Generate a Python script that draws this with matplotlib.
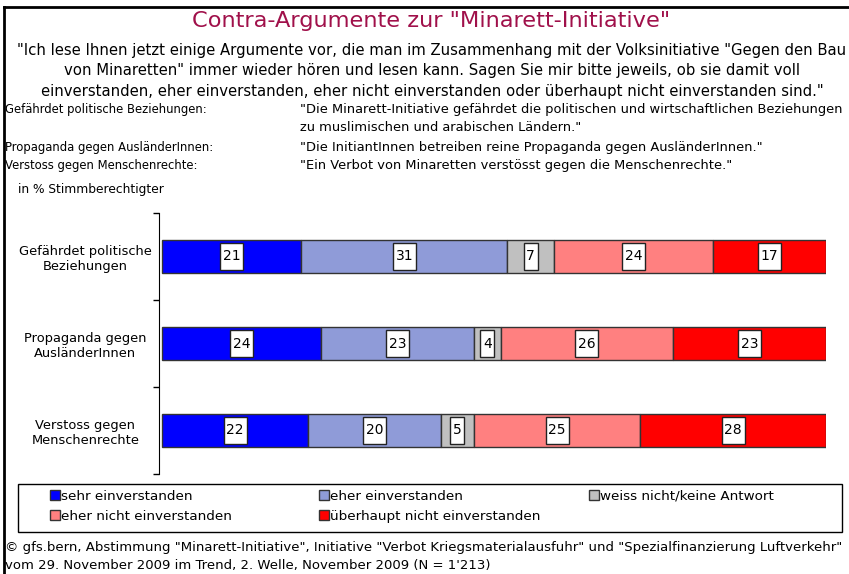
import numpy as np
import matplotlib.pyplot as plt
from matplotlib.patches import Rectangle
from matplotlib.lines import Line2D

# Daten
kategorien = ["Gefährdet politische\nBeziehungen",
              "Propaganda gegen\nAusländerInnen",
              "Verstoss gegen\nMenschenrechte"]
antworten = ["sehr einverstanden", "eher einverstanden", "weiss nicht/keine Antwort",
             "eher nicht einverstanden", "überhaupt nicht einverstanden"]
sehr_einverstanden = [21, 24, 22]
eher_einverstanden = [31, 23, 20]
weiss_nicht = [7, 4, 5]
eher_nicht = [24, 26, 25]
ueberhaupt_nicht = [17, 23, 28]
farben = ["#0000ff", "#8f9bd8", "#c0c0c0", "#ff8080", "#ff0000"]

W, H = 849, 574


def fx(x):
    return x / W


def fy(y):
    return 1 - y / H


fig = plt.figure(figsize=(W / 100, H / 100), dpi=100)

# Rahmen oben und links
fig.add_artist(Line2D([fx(4), 1], [fy(7), fy(7)], color="black", lw=2))
fig.add_artist(Line2D([fx(4), fx(4)], [fy(7), 0], color="black", lw=2))

fig.text(fx(431), fy(21), 'Contra-Argumente zur "Minarett-Initiative"', ha="center", va="center",
         fontsize=16.2, color="#a0104a")
frage = ('"Ich lese Ihnen jetzt einige Argumente vor, die man im Zusammenhang mit der Volksinitiative "Gegen den Bau\n'
         'von Minaretten" immer wieder hören und lesen kann. Sagen Sie mir bitte jeweils, ob sie damit voll\n'
         'einverstanden, eher einverstanden, eher nicht einverstanden oder überhaupt nicht einverstanden sind."')
fig.text(fx(432), fy(71), frage, ha="center", va="center", fontsize=10.7, linespacing=1.45)

fig.text(fx(5), fy(110), "Gefährdet politische Beziehungen:", ha="left", va="center", fontsize=8.4)
fig.text(fx(300), fy(110), '"Die Minarett-Initiative gefährdet die politischen und wirtschaftlichen Beziehungen',
         ha="left", va="center", fontsize=9.35)
fig.text(fx(300), fy(128), 'zu muslimischen und arabischen Ländern."', ha="left", va="center", fontsize=9.35)
fig.text(fx(5), fy(147), "Propaganda gegen AusländerInnen:", ha="left", va="center", fontsize=8.4)
fig.text(fx(300), fy(147), '"Die InitiantInnen betreiben reine Propaganda gegen AusländerInnen."',
         ha="left", va="center", fontsize=9.35)
fig.text(fx(5), fy(165), "Verstoss gegen Menschenrechte:", ha="left", va="center", fontsize=8.4)
fig.text(fx(300), fy(165), '"Ein Verbot von Minaretten verstösst gegen die Menschenrechte."',
         ha="left", va="center", fontsize=9.35)

fig.text(fx(18), fy(190), "in % Stimmberechtigter", ha="left", va="center", fontsize=8.8)

# Balken
ax = fig.add_axes([fx(159), fy(474), fx(826) - fx(159), (474 - 213) / H])
werte = np.array([sehr_einverstanden, eher_einverstanden, weiss_nicht, eher_nicht, ueberhaupt_nicht])
y = np.arange(len(kategorien))
px_x = (826 - 162) / 100.0   # Pixel pro Prozentpunkt
px_y = 87.0                  # Pixel pro Kategorie
links = np.zeros(len(kategorien))
balken = []
for i in range(len(antworten)):
    b = ax.barh(y, werte[i], left=links, height=0.38, color=farben[i],
                edgecolor="#333333", linewidth=1, label=antworten[i])
    balken.append(b)
    for j in range(len(kategorien)):
        mitte = links[j] + werte[i][j] / 2
        text = str(werte[i][j])
        bw = (5 + 9 * len(text)) / px_x
        bh = 27 / px_y
        ax.add_patch(Rectangle((mitte - bw / 2, y[j] - bh / 2), bw, bh, facecolor="white",
                               edgecolor="#222222", lw=1, zorder=3))
        ax.text(mitte, y[j], text, ha="center", va="center", fontsize=10, zorder=4)
    links += werte[i]

ax.set_xlim(-0.45, 100)
ax.set_ylim(2.5, -0.5)
ax.set_yticks(y)
ax.set_yticklabels(kategorien, multialignment="center", ha="center", fontsize=9.4)
ax.tick_params(axis="y", which="major", length=0, pad=53)
ax.set_yticks([-0.5, 0.5, 1.5, 2.5], minor=True)
ax.tick_params(axis="y", which="minor", length=4, width=1, direction="out")
ax.set_xticks([])
for s in ["top", "right", "bottom"]:
    ax.spines[s].set_visible(False)

# Legende in drei Spalten
fig.add_artist(Rectangle((fx(18), fy(532)), fx(842) - fx(18), (532 - 484) / H,
                         fill=False, edgecolor="black", lw=1))
spalten = [[0, 3], [1, 4], [2]]
spalten_x = [47, 316, 586]
for idx, xs in zip(spalten, spalten_x):
    fig.legend([balken[k] for k in idx], [antworten[k] for k in idx],
               loc="upper left", bbox_to_anchor=(fx(xs), fy(487)), frameon=False,
               fontsize=9.7, handlelength=0.75, handleheight=0.75, handletextpad=0.1,
               labelspacing=0.55, borderpad=0.2, borderaxespad=0)

fig.text(fx(5), fy(548), '© gfs.bern, Abstimmung "Minarett-Initiative", Initiative "Verbot Kriegsmaterialausfuhr" und "Spezialfinanzierung Luftverkehr"',
         ha="left", va="center", fontsize=9.5)
fig.text(fx(5), fy(566), "vom 29. November 2009 im Trend, 2. Welle, November 2009 (N = 1'213)",
         ha="left", va="center", fontsize=9.5)

fig.savefig("out.png", dpi=100)
